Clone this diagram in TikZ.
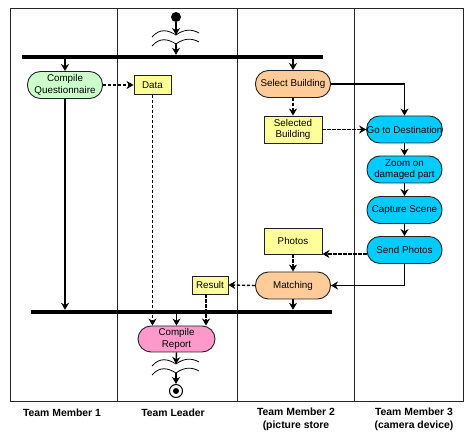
\documentclass[tikz,border=0pt]{standalone}
\usepackage{fontspec}
\setmainfont{Liberation Sans}
\usetikzlibrary{arrows.meta}
\definecolor{cgreen}{HTML}{CCFFCC}
\definecolor{cyellow}{HTML}{FFFF99}
\definecolor{corange}{HTML}{FFCC99}
\definecolor{ccyan}{HTML}{00CCFF}
\definecolor{cpink}{HTML}{FF99CC}
\definecolor{cborder}{HTML}{222222}
\tikzset{
  act/.style={draw=cborder, line width=0.9pt, rounded corners=13pt, minimum width=75pt, minimum height=27pt, inner sep=0pt, align=center, font=\fontsize{9.8}{11.5}\selectfont},
  obj/.style={draw=cborder, line width=0.9pt, fill=cyellow, inner sep=0pt, align=center, font=\fontsize{9.8}{11.5}\selectfont},
  bar/.style={fill=black, inner sep=0pt, minimum height=4pt},
  flow/.style={line width=1.4pt, -{Stealth[length=7pt,width=8pt,inset=2.2pt]}},
  oflow/.style={flow, dash pattern=on 3.2pt off 1.8pt},
  wave/.style={line width=0.8pt},
  lane/.style={line width=0.9pt, draw=black!85},
  lbl/.style={font=\bfseries\fontsize{10.4}{13}\selectfont, align=center}
}
\begin{document}
\begin{tikzpicture}[x=1pt,y=-1pt]
\useasboundingbox (0,0) rectangle (464,433);
% frame and lanes
\draw[lane] (10,8) rectangle (463,401);
\draw[lane] (117,8) -- (117,401);
\draw[lane] (237,8) -- (237,401);
\draw[lane] (354,8) -- (354,401);
% bars
\node[bar, minimum width=301pt] (bar1) at (172.5,57) {};
\node[bar, minimum width=301pt] (bar2) at (181.5,312) {};
% start
\node[circle, fill=black, minimum size=10pt, inner sep=0pt] (start) at (176,17) {};
\coordinate (w1) at (176,35);
\coordinate (w2) at (176,43);
\draw[wave] (152,37) .. controls (160,28) and (168,30) .. (176,35) .. controls (184,29) and (192,29) .. (199,33);
\draw[wave] (152,46) .. controls (160,37) and (168,39) .. (176,44) .. controls (184,38) and (192,38) .. (199,42);
\draw[flow] (start.south) -- (w1);
\draw[flow] (w2) -- (bar1.north -| w2);
% activities
\node[act, fill=cgreen] (cq) at (65,85) {Compile\\Questionnaire};
\node[obj, minimum width=37pt, minimum height=19pt] (data) at (152.5,85) {Data};
\node[act, fill=corange] (sb) at (293,84) {Select Building};
\node[obj, minimum width=58pt, minimum height=27pt] (selb) at (293,129.5) {Selected\\Building};
\node[act, fill=ccyan] (gtd) at (404.5,129.5) {Go to Destination};
\node[act, fill=ccyan] (zoomp) at (404.5,169.5) {Zoom on\\damaged part};
\node[act, fill=ccyan] (cap) at (404.5,210) {Capture Scene};
\node[act, fill=ccyan] (send) at (404.5,250) {Send Photos};
\node[obj, minimum width=58pt, minimum height=26pt] (photos) at (293,241) {Photos};
\node[act, fill=corange] (match) at (293,285.5) {Matching};
\node[obj, minimum width=36pt, minimum height=18pt] (result) at (210,285) {Result};
\node[act, fill=cpink, minimum width=77pt, minimum height=26pt] (cr) at (176.5,339) {Compile\\Report};
% end
\coordinate (w3) at (176,364);
\coordinate (w4) at (176,373);
\draw[wave] (152,366) .. controls (160,357) and (168,359) .. (176,364) .. controls (184,358) and (192,358) .. (199,362);
\draw[wave] (152,375) .. controls (160,366) and (168,368) .. (176,373) .. controls (184,367) and (192,367) .. (199,371);
\node[circle, draw=black, line width=1pt, minimum size=13pt, inner sep=0pt] (end) at (176,391) {};
\fill (end.center) circle (3pt);
% flows
\draw[flow] (bar1.south -| cq.north) -- (cq.north);
\draw[flow] (bar1.south -| sb.north) -- (sb.north);
\draw[oflow] (cq.east) -- (data.west);
\draw[flow] (cq.south) -- (cq.south |- bar2.north);
\draw[flow] (sb.east) -| (gtd.north);
\draw[oflow] (sb.south) -- (selb.north);
\draw[oflow] (selb.east) -- (gtd.west);
\draw[flow] (gtd.south) -- (zoomp.north);
\draw[flow] (zoomp.south) -- (cap.north);
\draw[flow] (cap.south) -- (send.north);
\draw[oflow] ([yshift=-4pt]send.west) -- ([yshift=-4pt]send.west -| photos.east);
\draw[flow] (send.south) |- (match.east);
\draw[oflow] (photos.south) -- (match.north);
\draw[oflow] (match.west) -- (result.east);
\draw[flow] (match.south) -- (match.south |- bar2.north);
\draw[oflow] (data.south) -- (data.south |- cr.north);
\draw[oflow] ([xshift=-4pt]result.south) -- ([xshift=-4pt]result.south |- cr.north);
\draw[flow] (bar2.south -| cr.north) -- (cr.north);
\draw[flow] (cr.south) -- (w3);
\draw[flow] (w4) -- (end.north);
% labels
\node[lbl] (l1) at (62,413) {Team Member 1};
\node[lbl] (l2) at (173,413) {Team Leader};
\node[lbl] (l3) at (296,419.5) {Team Member 2\\(picture store};
\node[lbl] (l4) at (414,419.5) {Team Member 3\\(camera device)};
\end{tikzpicture}
\end{document}
